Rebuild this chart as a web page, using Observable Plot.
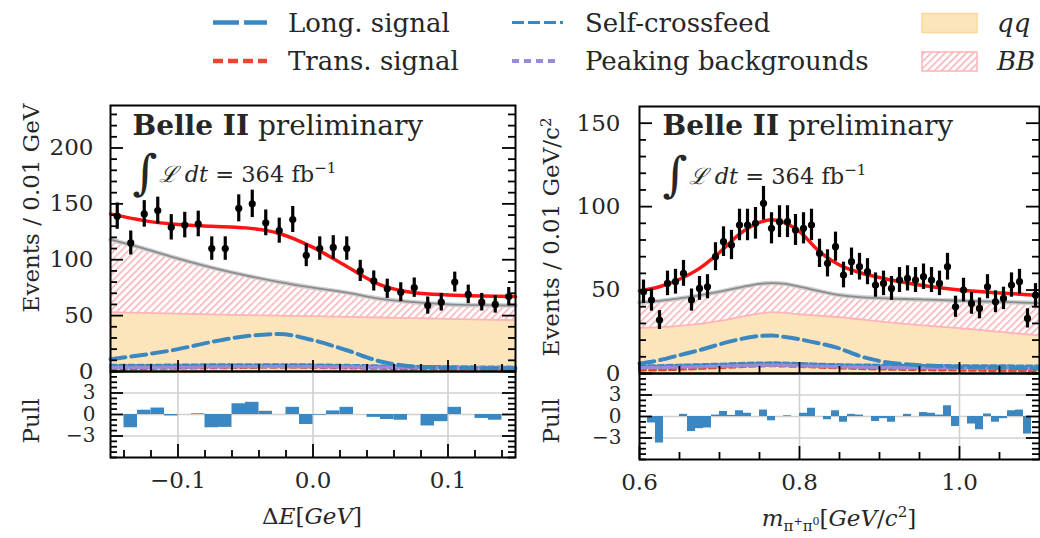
<!DOCTYPE html>
<html><head><meta charset="utf-8">
<script src="https://cdn.jsdelivr.net/npm/d3@7"></script>
<script src="https://cdn.jsdelivr.net/npm/@observablehq/plot@0.6"></script>
<style>
body{margin:0;background:#fff;}
#fig{position:relative;width:1040px;height:538px;overflow:hidden;font-family:"DejaVu Serif",serif;color:#262626;}
#fig > svg{position:absolute;}
.yt{position:absolute;font-size:23px;line-height:1;white-space:nowrap;transform:translate(-50%,-50%) rotate(-90deg);}
.xt{position:absolute;font-size:23px;line-height:1;white-space:nowrap;transform:translate(-50%,0);}
</style></head><body>
<svg width="0" height="0" style="position:absolute"><defs>
<pattern id="hatchBB" patternUnits="userSpaceOnUse" width="5" height="5" patternTransform="rotate(45)">
<rect width="5" height="5" fill="#ffffff"/><line x1="0.8" y1="0" x2="0.8" y2="5" stroke="#f6a2aa" stroke-width="1.3"/></pattern>
</defs></svg>
<div id="fig"></div>
<script>
// ---------------- Left panel: Delta E ----------------
const deLo = -0.15, deW = 0.01;
const deCounts = [139,115,141,144,129,131,132,110,110,146,150,133,126,136,104,110,111,110,90,81,74,71,75,59,62,80,69,62,60,67];
const dePull   = [0,-1.85,0.6,0.9,-0.2,0,0.1,-1.85,-1.8,1.5,1.7,0.45,0,1.0,-1.4,-0.1,0.5,1.0,0,-0.4,-0.7,-0.8,0,-1.6,-1.0,1.0,0,-0.55,-0.8,0];
const deNodes  = [-0.15,-0.125,-0.1,-0.075,-0.05,-0.025,0,0.025,0.05,0.075,0.1,0.125,0.15];
const deFit    = [141,135,131.5,130,128.5,123.5,111,94,77.5,70.5,68.5,67.5,67];
const deBkg    = [118,110,101,93,86,80,75,70.5,65,62,60,59.3,59];
const deQQ     = [53,52.4,51.8,51.1,50.5,50,49.5,48.9,48.3,47.7,47.1,46.5,46];
const deLong   = [11,15,20,26.5,31.5,33.5,28,19,9,4.5,3.5,3,3];
const deTrans  = [2.5,2.7,3,3.3,3.6,3.8,3.6,3.2,2.8,2.5,2.3,2.2,2.1];
const deSelf   = [5.5,5.6,5.8,6,6.1,6.1,5.9,5.5,5,4.6,4.3,4.1,4];
const dePeak   = [3.5,3.6,3.8,4,4.2,4.3,4.2,4,3.8,3.6,3.5,3.4,3.4];
const deXMajor = [-0.1,0,0.1];
const deXLabels = ["\u22120.1","0.0","0.1"];
const deXMinor = [-0.14,-0.12,-0.08,-0.06,-0.04,-0.02,0.02,0.04,0.06,0.08,0.12,0.14];
const deYMajor = [0,50,100,150,200];
const deYMinor = [10,20,30,40,60,70,80,90,110,120,130,140,160,170,180,190,210,220,230];

// ---------------- Right panel: m(pi+ pi0) ----------------
const mLo = 0.6, mW = 0.01;
const mCounts = [49,44,32,54,55,60,44,51,52,70,79,77,89,89,90,102,87,91,91,86,87,89,72,66,76,59,67,64,61,53,54,51,56,57,56,58,56,54,64,40,50,42,39,52,43,45,53,55,33,47];
const mPull   = [0,-0.9,-3.7,0,0,0.3,-2.1,-1.7,-1.6,0.2,0.7,0.15,0.8,0.45,0,0.9,-0.6,0,0.1,0,0.45,1.15,0,-0.45,0.8,-0.8,0.3,0.2,0,-0.7,-0.3,-0.8,0,0.3,0,0.55,0.45,0.2,1.5,-1.4,0,-1.05,-1.85,0.35,-0.8,-0.3,0.8,0.9,-2.45,0];
const mNodes  = [0.6,0.625,0.65,0.675,0.7,0.725,0.75,0.765,0.78,0.8,0.825,0.85,0.875,0.9,0.95,1.0,1.05,1.1];
const mFit    = [49.5,52,56.5,63,72.5,83.5,90.5,92.2,90.5,85,73,65,60.5,57.5,53,50,48.3,46.8];
const mBkg    = [42.5,43.5,45,46.8,49,51.5,53.7,54.2,53.8,52,49.3,47,45.8,45.2,44.4,43.6,42.9,42.2];
const mQQ     = [27.3,27.8,28.6,29.8,31.5,33.8,36,36.8,36.5,35.5,34.6,33.8,32.5,31.2,29,27.2,25,22.8];
const mLong   = [6,8,11,14,17.5,20.5,22.5,22.8,22,20.5,18,15,10.5,7.5,5,4,3.5,3];
const mTrans  = [2,2.2,2.5,3,3.5,4,4.5,4.6,4.5,4.2,3.8,3.3,3,2.7,2.3,2,1.8,1.6];
const mSelf   = [4.5,4.7,5,5.3,5.6,6,6.3,6.4,6.3,6,5.6,5.3,5.1,5,4.8,4.7,4.6,4.5];
const mPeak   = [3.5,3.6,3.8,4,4.3,4.6,4.9,5,4.9,4.6,4.3,4,3.8,3.6,3.4,3.2,3.1,3];
const mXMajor = [0.6,0.8,1.0];
const mXLabels = ["0.6","0.8","1.0"];
const mXMinor = [0.65,0.7,0.75,0.85,0.9,0.95,1.05];
const mYMajor = [0,50,100,150];
const mYMinor = [10,20,30,40,60,70,80,90,110,120,130,140];

// ---------------- Pull axes ----------------
const pullMajor = [-3,0,3];
const pullLabels = ["\u22123","0","3"];
const pullMinor = [-6,-5.25,-4.5,-3.75,-2.25,-1.5,-0.75,0.75,1.5,2.25,3.75,4.5,5.25,6];

// ---------------- Legend ----------------
const legendNames = ["Long. signal","Trans. signal","Self-crossfeed","Peaking backgrounds","qq","BB"];

// ---------------- colours ----------------
const C = {long:"#3b87c2", trans:"#e8472f", self:"#3b87c2", peak:"#9a8ad8", fit:"#ff1414", qq:"#fde5bb", bbEdge:"#ffb3bb", pull:"#3b87c2", grid:"#d0d0d0", text:"#262626"};
const curve = "monotone-x";

function curves(nodes, fit, bkg, qq, lg, tr, sf, pk) {
  return nodes.map((x,i)=>({x, fit:fit[i], bkg:bkg[i], qq:qq[i], long:lg[i], trans:tr[i], self:sf[i], peak:pk[i]}));
}
function bins(lo, w, counts, pulls) {
  return counts.map((n,i)=>({x: lo+(i+0.5)*w, x1: lo+i*w, x2: lo+(i+1)*w, n, lo: n-Math.sqrt(n), hi: n+Math.sqrt(n), pull: pulls[i]}));
}
const deC = curves(deNodes, deFit, deBkg, deQQ, deLong, deTrans, deSelf, dePeak);
const mC  = curves(mNodes, mFit, mBkg, mQQ, mLong, mTrans, mSelf, mPeak);
const deB = bins(deLo, deW, deCounts, dePull);
const mB  = bins(mLo, mW, mCounts, mPull);

// inward tick marks: tick marks spanning the frame, inset so only a short stub remains at an edge
function inTicks(fw, fh, xMaj, xMin, yMaj, yMin, sx, sy) {
  const o = {stroke: "black", strokeWidth: 1.8, strokeOpacity: 1};
  const out = [];
  for (const [vals, len] of [[xMaj, sx[0]], [xMin, sx[1]]]) {
    out.push(Plot.tickX(vals, {...o, insetTop: fh - len}));
  }
  for (const [vals, len] of [[yMaj, sy[0]], [yMin, sy[1]]]) {
    out.push(Plot.tickY(vals, {...o, insetRight: fw - len}));
    out.push(Plot.tickY(vals, {...o, insetLeft: fw - len}));
  }
  return out;
}

function mainPlot(cfg) {
  const {C: cv, B, xDom, yDom, xMaj, xMin, yMaj, yMin, w, h, ml, mr, mt, mb} = cfg;
  const fw = w - ml - mr, fh = h - mt - mb;
  return Plot.plot({
    width: w, height: h, marginLeft: ml, marginRight: mr, marginTop: mt, marginBottom: mb,
    x: {domain: xDom, axis: null}, y: {domain: yDom},
    style: {fontFamily: "DejaVu Serif", fontSize: "23px", color: C.text, background: "transparent", overflow: "visible"},
    marks: [
      Plot.areaY(cv, {x:"x", y1:0, y2:"qq", fill:C.qq, curve}),
      Plot.areaY(cv, {x:"x", y1:"qq", y2:"bkg", fill:"url(#hatchBB)", curve}),
      Plot.lineY(cv, {x:"x", y:"qq", stroke:C.bbEdge, strokeWidth:1.8, curve}),
      Plot.lineY(cv, {x:"x", y:"bkg", stroke:"#cfcfcf", strokeWidth:4.5, curve}),
      Plot.lineY(cv, {x:"x", y:"bkg", stroke:"#8c8c8c", strokeWidth:1.8, curve}),
      Plot.lineY(cv, {x:"x", y:"self", stroke:C.self, strokeWidth:3, strokeDasharray:"6,3", curve}),
      Plot.lineY(cv, {x:"x", y:"trans", stroke:C.trans, strokeWidth:3, strokeDasharray:"6,4", curve}),
      Plot.lineY(cv, {x:"x", y:"peak", stroke:C.peak, strokeWidth:3.5, strokeDasharray:"2.5,3", curve}),
      Plot.lineY(cv, {x:"x", y:"long", stroke:C.long, strokeWidth:4, strokeDasharray:"15,6", curve}),
      Plot.lineY(cv, {x:"x", y:"fit", stroke:C.fit, strokeWidth:3.5, curve}),
      Plot.ruleX(B, {x:"x", y1:"lo", y2:"hi", stroke:"black", strokeWidth:3.2}),
      Plot.dot(B, {x:"x", y:"n", r:3.6, fill:"black"}),
      Plot.text(["Belle II preliminary"], {frameAnchor:"top-left", textAnchor:"start", lineAnchor:"middle", dx:cfg.tdx, dy:cfg.tdy, fontSize:28, fill:C.text}),
      Plot.text(["LUMI"], {frameAnchor:"top-left", textAnchor:"start", lineAnchor:"middle", dx:cfg.tdx, dy:cfg.ldy, fontSize:22.5, fill:C.text}),
      ...inTicks(fw, fh, xMaj, xMin, yMaj, yMin, [11,7], [13,7]),
      Plot.axisY(yMaj, {anchor:"left", tickSize:0, tickPadding:cfg.pad, label:null, fill:C.text}),
      Plot.frame({stroke:"black", strokeWidth:2})
    ]
  });
}

function pullPlot(cfg) {
  const {B, xDom, xMaj, xMin, xLab, w, h, ml, mr, mt, mb} = cfg;
  const fw = w - ml - mr, fh = h - mt - mb;
  return Plot.plot({
    width: w, height: h, marginLeft: ml, marginRight: mr, marginTop: mt, marginBottom: mb,
    x: {domain: xDom}, y: {domain: [-6, 6]},
    style: {fontFamily: "DejaVu Serif", fontSize: "23px", color: C.text, background: "transparent", overflow: "visible"},
    marks: [
      Plot.gridY(pullMajor, {stroke:C.grid, strokeOpacity:1, strokeWidth:1.6}),
      Plot.gridX(xMaj, {stroke:C.grid, strokeOpacity:1, strokeWidth:1.6}),
      Plot.rect(B, {x1:"x1", x2:"x2", y1:0, y2:"pull", fill:C.pull}),
      ...inTicks(fw, fh, xMaj, xMin, pullMajor, pullMinor, [13,7], [13,7]),
      Plot.axisX(xMaj, {anchor:"bottom", tickSize:0, tickPadding:14, label:null, fill:C.text, tickFormat: d => xLab[xMaj.indexOf(d)]}),
      Plot.axisY(pullMajor, {anchor:"left", tickSize:0, tickPadding:cfg.pad, label:null, fill:C.text, fontSize:20, tickFormat: d => pullLabels[pullMajor.indexOf(d)]}),
      Plot.frame({stroke:"black", strokeWidth:2})
    ]
  });
}

function richText(svg) {
  d3.select(svg).selectAll("text").each(function() {
    const t = this.textContent, s = d3.select(this);
    if (t === "Belle II preliminary") {
      s.text(null);
      s.append("tspan").attr("font-weight","bold").text("Belle II");
      s.append("tspan").text(" preliminary");
    } else if (t === "LUMI") {
      s.text(null);
      s.append("tspan").attr("font-size", 48).attr("dy", 7).text("\u222B");
      s.append("tspan").attr("dy", -7).attr("dx", 1).attr("font-style","italic").text("\u2112");
      s.append("tspan").attr("font-style","italic").text(" dt");
      s.append("tspan").text(" = 364 fb");
      s.append("tspan").attr("font-size", 15).attr("dy", -9).text("\u22121");
    }
  });
}

const fig = document.getElementById("fig");
function place(svg, left, top) { svg.style.position = "absolute"; svg.style.left = left+"px"; svg.style.top = top+"px"; fig.appendChild(svg); }

const lm = mainPlot({C: deC, B: deB, xDom:[-0.15,0.15], yDom:[0,238], xMaj: deXMajor, xMin: deXMinor, yMaj: deYMajor, yMin: deYMinor,
  w:530, h:277, ml:110, mr:15, mt:10, mb:1, tdx:22, tdy:21, ldy:69, pad:17});
richText(lm); place(lm, 0, 95);
const lp = pullPlot({B: deB, xDom:[-0.15,0.15], xMaj: deXMajor, xMin: deXMinor, xLab: deXLabels, w:530, h:132, ml:110, mr:15, mt:11, mb:35, pad:15});
place(lp, 0, 360);

const rm = mainPlot({C: mC, B: mB, xDom:[0.6,1.1], yDom:[0,160], xMaj: mXMajor, xMin: mXMinor, yMaj: mYMajor, yMin: mYMinor,
  w:500, h:278, ml:99, mr:1, mt:10, mb:1, tdx:23, tdy:20, ldy:70, pad:19});
richText(rm); place(rm, 540, 96);
const rp = pullPlot({B: mB, xDom:[0.6,1.1], xMaj: mXMajor, xMin: mXMinor, xLab: mXLabels, w:500, h:132, ml:99, mr:1, mt:11, mb:35, pad:18});
place(rp, 540, 362);

// axis titles
function addDiv(cls, html, left, top) { const d = document.createElement("div"); d.className = cls; d.innerHTML = html; d.style.left = left+"px"; d.style.top = top+"px"; fig.appendChild(d); }
addDiv("yt", "Events / 0.01 GeV", 31, 208);
addDiv("yt", "Pull", 31, 421);
addDiv("yt", "Events / 0.01 GeV/c<sup style='font-size:15px'>2</sup>", 551, 237);
addDiv("yt", "Pull", 551, 421);
addDiv("xt", "\u0394<i>E</i>[<i>GeV</i>]", 312, 505);
addDiv("xt", "<i>m</i><sub style='font-size:15px'>\u03C0<sup style='font-size:11px'>+</sup>\u03C0<sup style='font-size:11px'>0</sup></sub>[<i>GeV</i>/<i>c</i><sup style='font-size:15px'>2</sup>]", 839, 505);

// legend (SVG)
const lg = d3.select(fig).append("svg").attr("width", 1040).attr("height", 85).style("left","0px").style("top","0px")
  .attr("font-family","DejaVu Serif").attr("font-size", 26).attr("fill", C.text);
const lineItems = [
  {name: legendNames[0], x: 213, tx: 288, y: 22.5, by: 32, stroke: C.long, w: 4.5, dash: "26,5", len: 54},
  {name: legendNames[1], x: 213, tx: 288, y: 61, by: 70, stroke: C.trans, w: 4.5, dash: "10,5", len: 54},
  {name: legendNames[2], x: 512, tx: 585, y: 22.5, by: 32, stroke: C.self, w: 3, dash: "12,4", len: 51},
  {name: legendNames[3], x: 512, tx: 585, y: 61, by: 70, stroke: C.peak, w: 4, dash: "7,5", len: 48}
];
for (const it of lineItems) {
  lg.append("line").attr("x1", it.x).attr("x2", it.x+it.len).attr("y1", it.y).attr("y2", it.y)
    .attr("stroke", it.stroke).attr("stroke-width", it.w).attr("stroke-dasharray", it.dash);
  lg.append("text").attr("x", it.tx).attr("y", it.by).text(it.name);
}
lg.append("rect").attr("x", 922).attr("y", 13.5).attr("width", 55).attr("height", 19).attr("fill", C.qq).attr("stroke", "#fcd79c").attr("stroke-width", 1.5);
lg.append("text").attr("x", 997).attr("y", 32).attr("font-style","italic").text(legendNames[4]);
lg.append("rect").attr("x", 922).attr("y", 52).attr("width", 55).attr("height", 19).attr("fill", "url(#hatchBB)").attr("stroke", C.bbEdge).attr("stroke-width", 1.5);
lg.append("text").attr("x", 997).attr("y", 70).attr("font-style","italic").text(legendNames[5]);
</script>
</body></html>
